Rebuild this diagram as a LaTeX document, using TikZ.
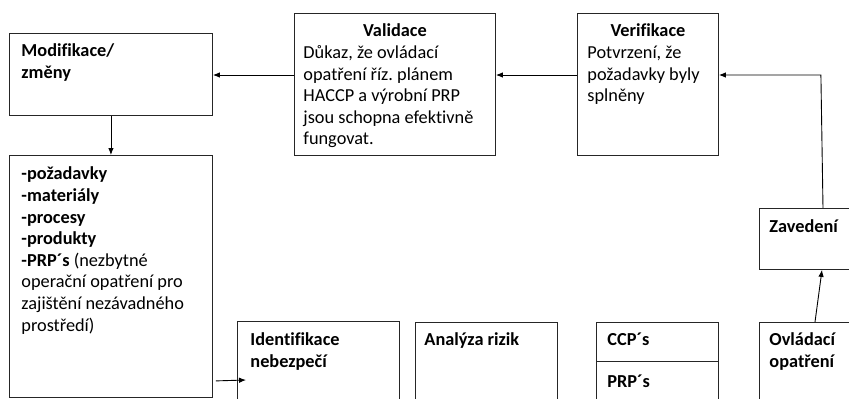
\documentclass[tikz,border=0pt]{standalone}
\usepackage{fontspec}
\setmainfont{Carlito}[Ligatures=CommonOff]
\usetikzlibrary{calc,arrows.meta}
\frenchspacing

\begin{document}
\begin{tikzpicture}[x=1pt, y=-1pt, >={Latex[length=7pt,width=5.5pt]}, line width=0.9pt,
  font=\fontsize{18.3}{21.6}\selectfont,
  box/.style={draw=black!85, inner sep=0pt, anchor=north west},
  txt/.style={anchor=north west, inner sep=0pt, align=left}]
  \useasboundingbox (0,0) rectangle (849,399);
  \clip (0,0) rectangle (849,399);

  % top row: modification, validation, verification
  \node[box, minimum width=203pt, minimum height=82pt] (modif) at (9,33) {};
  \node[txt] (modift) at ($(modif.north west)+(12,8.4)$) {\strut\textbf{Modifikace/}\\\textbf{změny}};
  \node[box, minimum width=201pt, minimum height=142pt] (valid) at (294,13) {};
  \node[txt, anchor=north] (validt) at ($(valid.north)+(0,8.4)$) {\strut\textbf{Validace}};
  \node[txt] (validb) at ($(valid.north west)+(9,30)$)
    {\strut Důkaz, že ovládací\\opatření říz. plánem\\HACCP a výrobní PRP\\jsou schopna efektivně\\fungovat.};
  \node[box, minimum width=141pt, minimum height=142pt] (verif) at (577,13) {};
  \node[txt, anchor=north] (veriftt) at ($(verif.north)+(0,8.4)$) {\strut\textbf{Verifikace}};
  \node[txt] (verifb) at ($(verif.north west)+(10,30)$)
    {\strut Potvrzení, že\\požadavky byly\\splněny};

  % requirements
  \node[box, minimum width=203pt, minimum height=242pt] (req) at (9,155) {};
  \node[txt] (reqt) at ($(req.north west)+(12,9.4)$)
    {\strut\textbf{-požadavky}\\\textbf{-materiály}\\\textbf{-procesy}\\\textbf{-produkty}\\
     \textbf{-PRP´s} (nezbytné\\operační opatření pro\\zajištění nezávadného\\prostředí)};

  % bottom row
  \node[box, minimum width=162pt, minimum height=100pt] (ident) at (237,321) {};
  \node[txt] (identt) at ($(ident.north west)+(13,9.4)$) {\strut\textbf{Identifikace}\\\textbf{nebezpečí}};
  \node[box, minimum width=142pt, minimum height=100pt] (anal) at (415,322) {};
  \node[txt] (analt) at ($(anal.north west)+(9,8.4)$) {\strut\textbf{Analýza rizik}};
  \node[box, minimum width=122pt, minimum height=39pt] (ccp) at (596,322) {};
  \node[txt] (ccpt) at ($(ccp.north west)+(11,8.4)$) {\strut\textbf{CCP´s}};
  \node[box, minimum width=122pt, minimum height=60pt] (prp) at (596,361) {};
  \node[txt] (prpt) at ($(prp.north west)+(11,11.4)$) {\strut\textbf{PRP´s}};
  \node[box, minimum width=110pt, minimum height=100pt] (ovl) at (759,322) {};
  \node[txt] (ovlt) at ($(ovl.north west)+(10,8.4)$) {\strut\textbf{Ovládací}\\\textbf{opatření}};
  \node[box, minimum width=110pt, minimum height=61pt] (zav) at (759,208) {};
  \node[txt] (zavt) at ($(zav.north west)+(10,9.4)$) {\strut\textbf{Zavedení}};

  % connectors
  \draw[->] ($(verif.north west)+(0,62)$) -- ($(valid.north east)+(0,62)$);
  \draw[->] ($(valid.north west)+(0,62)$) -- ($(modif.north east)+(0,42)$);
  \draw[->] (modif.south) -- (req.north);
  \coordinate (reqout) at ($(req.south east)+(3,-17)$);
  \coordinate (identin) at ($(ident.north west)+(9,59)$);
  \draw[->] (reqout) -- (identin);
  \draw[->] ($(ovl.north west)+(56,0)$) -- ($(zav.south west)+(63,0)$);
  \coordinate (bend) at ($(verif.north east)+(102,62)$);
  \draw[->] ($(zav.north west)+(64,0)$) -- (bend) -- ($(verif.north east)+(0,62)$);
\end{tikzpicture}
\end{document}
